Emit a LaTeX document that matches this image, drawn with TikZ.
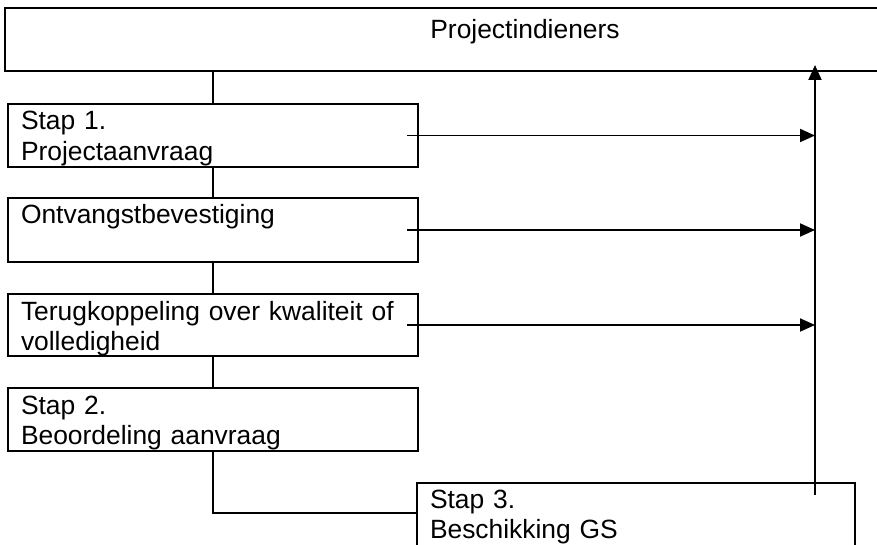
\documentclass[tikz,border=0pt]{standalone}
\usepackage{fontspec}
\setmainfont{Liberation Sans}
\usepackage{tikz}
\usetikzlibrary{arrows.meta, positioning}

\begin{document}
\begin{tikzpicture}[
        x=1pt, y=-1pt,
        font=\fontsize{26.4}{30.5}\selectfont,
        stepbox/.style={rectangle, draw=black, line width=2pt, anchor=north west, outer sep=0pt,
            inner xsep=13pt, inner ysep=0pt, align=left, text width=#1, text height=26pt},
        flow/.style={line width=1.8pt},
        feedback/.style={-{Triangle[length=15pt, width=13pt]}, line width=1.9pt}
    ]
        \clip (0,0) rectangle (877,545);

        % Boxes
        \node[stepbox=1014pt, align=center, text height=31pt, text depth=32pt] (indieners) at (5,8) {Projectindieners};
        \node[stepbox=384pt, text depth=37pt] (aanvraag) at (8,104) {Stap 1.\\Projectaanvraag};
        \node[stepbox=384pt, text depth=38pt] (bevestiging) at (8,198) {Ontvangstbevestiging};
        \node[stepbox=384pt, text depth=36pt] (terugkoppeling) at (8,294) {Terugkoppeling over kwaliteit of\\volledigheid};
        \node[stepbox=384pt, text depth=37pt] (beoordeling) at (8,388) {Stap 2.\\Beoordeling aanvraag};
        \node[stepbox=412pt, text height=25pt, text depth=75pt] (beschikking) at (417,483) {Stap 3.\\Beschikking GS};
        \coordinate (retour) at (815,495);

        % Flow
        \draw[flow] (aanvraag.north |- indieners.south) -- (aanvraag.north);
        \draw[flow] (aanvraag) -- (bevestiging);
        \draw[flow] (bevestiging) -- (terugkoppeling);
        \draw[flow] (terugkoppeling) -- (beoordeling);
        \draw[flow] (beoordeling.south) |- ([yshift=-30pt]beschikking.north west);

        % Feedback to applicants
        \draw[feedback] ([xshift=-11pt]aanvraag.east) -- (aanvraag.east -| retour);
        \draw[feedback] ([xshift=-11pt]bevestiging.east) -- (bevestiging.east -| retour);
        \draw[feedback] ([xshift=-11pt]terugkoppeling.east) -- (terugkoppeling.east -| retour);
        \draw[feedback] (retour) -- ([yshift=6pt]retour |- indieners.south);
    \end{tikzpicture}
\end{document}
